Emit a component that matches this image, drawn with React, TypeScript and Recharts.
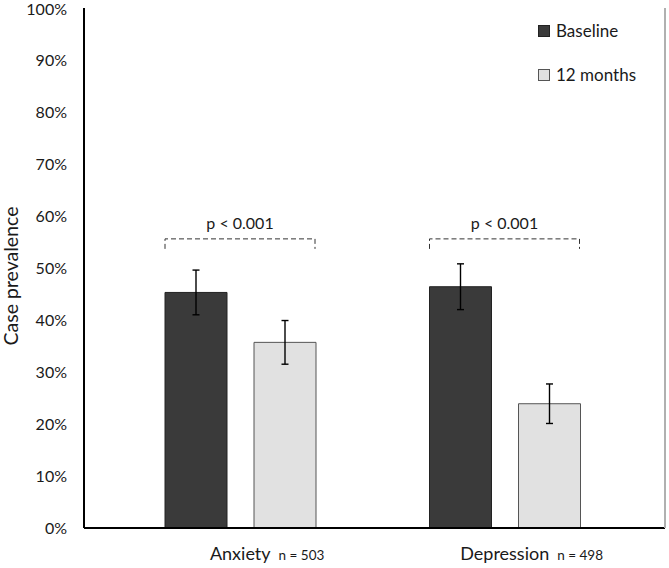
import { BarChart, Bar, XAxis, YAxis, ErrorBar } from 'recharts';

// values (percent)
const categories = ['Anxiety', 'Depression'];
const sampleSizes = ['n = 503', 'n = 498'];
const baseline = [45.3, 46.4];
const baselineErr = [4.3, 4.4];
const months12 = [35.7, 23.9];
const months12Err = [4.2, 3.8];
const bracketLevel = [55.6, 55.6];
const pLabels = ['p < 0.001', 'p < 0.001'];
const yTicks = [0, 10, 20, 30, 40, 50, 60, 70, 80, 90, 100];
const seriesNames = ['Baseline', '12 months'];

const FONT = 'Lato, "Open Sans", sans-serif';
const INK = '#1a1a1a';
const DARK = '#3a3a3a';
const LIGHT = '#e1e1e1';

const data = categories.map((c, i) => ({
  name: c,
  baseline: baseline[i],
  baselineErr: baselineErr[i],
  months12: months12[i],
  months12Err: months12Err[i],
  bracket: bracketLevel[i],
  pLabel: pLabels[i],
}));

let ctx: CanvasRenderingContext2D | null = null;
const textWidth = (text: string, font: string) => {
  if (!ctx) ctx = document.createElement('canvas').getContext('2d');
  if (!ctx) return text.length * 8;
  ctx.font = font;
  return ctx.measureText(text).width;
};

function CategoryTick(props: any) {
  const { x, y, payload } = props;
  const idx = categories.indexOf(payload.value);
  const w = textWidth(payload.value, `18px ${FONT}`);
  return (
    <g>
      <text x={x} y={y + 24} textAnchor="middle" fontSize={18} fontFamily={FONT} fill={INK}>
        {payload.value}
      </text>
      <text x={x + w / 2 + 8} y={y + 24} fontSize={13.5} fontFamily={FONT} fill={INK}>
        {sampleSizes[idx]}
      </text>
    </g>
  );
}

// dashed significance bracket drawn on top of a hidden group-wide bar
function BracketShape(props: any) {
  const { x, y, width, payload } = props;
  return (
    <g>
      <path
        d={`M${x},${y + 10} L${x},${y} L${x + width},${y} L${x + width},${y + 10}`}
        fill="none"
        stroke="#333"
        strokeWidth={1}
        strokeDasharray="5 3"
      />
      <text
        x={x + width / 2}
        y={y - 10}
        textAnchor="middle"
        fontSize={16}
        fontFamily={FONT}
        fill={INK}
      >
        {payload.pLabel}
      </text>
    </g>
  );
}

function LegendBox() {
  const items = [
    { label: seriesNames[0], fill: DARK, stroke: '#222' },
    { label: seriesNames[1], fill: LIGHT, stroke: '#555' },
  ];
  return (
    <div
      style={{
        position: 'absolute',
        left: 538,
        top: 20,
        fontFamily: FONT,
        fontSize: 17,
        color: INK,
      }}
    >
      {items.map((it) => (
        <div key={it.label} style={{ display: 'flex', alignItems: 'center', height: 21, marginBottom: 23 }}>
          <span
            style={{
              display: 'inline-block',
              width: 10,
              height: 10,
              background: it.fill,
              border: `1px solid ${it.stroke}`,
              marginRight: 6,
            }}
          />
          {it.label}
        </div>
      ))}
    </div>
  );
}

export default function App() {
  return (
    <div style={{ position: 'absolute', left: 0, top: 0, width: 669, height: 568, background: '#fff' }}>
      <BarChart
        width={669}
        height={568}
        data={data}
        barGap={27}
        margin={{ top: 8, right: 3, bottom: 0, left: 0 }}
      >
        <XAxis
          dataKey="name"
          height={40}
          padding={{ left: 24, right: 28 }}
          axisLine={{ stroke: '#000', strokeWidth: 2 }}
          tickLine={false}
          tick={<CategoryTick />}
        />
        <XAxis xAxisId="br" dataKey="name" hide padding={{ left: 24, right: 28 }} />
        <YAxis
          width={84}
          domain={[0, 100]}
          ticks={yTicks}
          tickFormatter={(v) => `${v}%`}
          axisLine={{ stroke: '#000', strokeWidth: 2 }}
          tickLine={false}
          tickSize={6}
          tickMargin={11}
          tick={{ fontSize: 16, fontFamily: FONT, fill: INK }}
          label={{
            content: (p: any) => {
              const vb = p.viewBox || { x: 0, y: 8, height: 520 };
              const cx = vb.x + 10;
              const cy = vb.y + vb.height / 2 + 8;
              return (
                <text
                  x={cx}
                  y={cy}
                  transform={`rotate(-90 ${cx} ${cy})`}
                  textAnchor="middle"
                  dominantBaseline="central"
                  fontSize={19.5}
                  fontFamily={FONT}
                  fill={INK}
                >
                  Case prevalence
                </text>
              );
            },
          }}
        />
        <YAxis
          yAxisId="frame"
          orientation="right"
          width={1}
          domain={[0, 100]}
          tick={false}
          tickLine={false}
          axisLine={{ stroke: '#b0b0b0', strokeWidth: 2 }}
        />
        <Bar
          dataKey="baseline"
          name={seriesNames[0]}
          fill={DARK}
          stroke="#222"
          strokeWidth={1}
          barSize={62}
          isAnimationActive={false}
        >
          <ErrorBar dataKey="baselineErr" width={3.5} stroke="#000" strokeWidth={1.4} direction="y" />
        </Bar>
        <Bar
          dataKey="months12"
          name={seriesNames[1]}
          fill={LIGHT}
          stroke="#555"
          strokeWidth={1}
          barSize={62}
          isAnimationActive={false}
        >
          <ErrorBar dataKey="months12Err" width={3.5} stroke="#000" strokeWidth={1.4} direction="y" />
        </Bar>
        <Bar
          xAxisId="br"
          dataKey="bracket"
          legendType="none"
          barSize={150}
          shape={<BracketShape />}
          isAnimationActive={false}
        />
      </BarChart>
      <LegendBox />
    </div>
  );
}
